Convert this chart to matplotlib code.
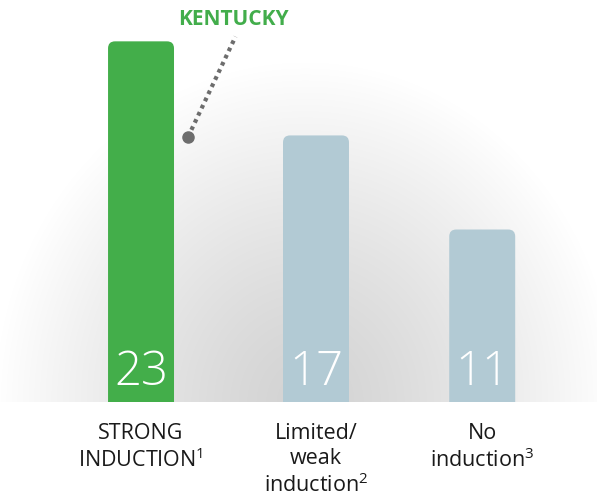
import numpy as np
import matplotlib
matplotlib.use("Agg")
import matplotlib.pyplot as plt
from matplotlib.patches import FancyBboxPatch

plt.rcParams['font.family'] = ['Open Sans', 'DejaVu Sans']
plt.rcParams['mathtext.fontset'] = 'custom'
plt.rcParams['mathtext.rm'] = 'Open Sans'
plt.rcParams['mathtext.it'] = 'Open Sans'
plt.rcParams['mathtext.bf'] = 'Open Sans:bold'
plt.rcParams['mathtext.default'] = 'regular'

# data
categories = ["STRONG\nINDUCTION$^{1}$", "Limited/\nweak\ninduction$^{2}$", "No\ninduction$^{3}$"]
values = [23, 17, 11]
highlight = "KENTUCKY"

green = "#43ae4a"
blue = "#b2cad4"
colors = [green, blue, blue]

fig = plt.figure(figsize=(5.97, 5.02), dpi=100)
ax = fig.add_axes([0, 1 - 403 / 502, 1, 403 / 502])
ax.set_xlim(-0.806, 2.606)
ax.set_ylim(0, 25.7)
ax.axis("off")

# soft radial grey backdrop behind the bars
H, W = 403, 597
yy, xx = np.mgrid[0:H, 0:W]
dx = (xx - 305) / 310.0
dy = (H - yy) / 340.0
d = np.clip(np.sqrt(dx ** 2 + dy ** 2), 0, 1)
g = (211 + 44 * d ** 1.3) / 255.0
ax.imshow(np.dstack([g, g, g]), extent=(0, 1, 0, 1), transform=ax.transAxes,
          aspect="auto", zorder=0, interpolation="bilinear")

positions = [0, 1, 1.95]
width = 0.377
px_x = 175.0        # pixels per x unit
px_y = 403 / 25.7   # pixels per y unit
radius_px = 7
for x, v, c in zip(positions, values, colors):
    patch = FancyBboxPatch((x - width / 2, -2), width, v + 2,
                           boxstyle=f"round,pad=0,rounding_size={radius_px / px_x}",
                           mutation_aspect=px_x / px_y,
                           facecolor=c, edgecolor="none", zorder=2,
                           clip_on=True)
    ax.add_patch(patch)
    ax.text(x, 1.15, str(v), ha="center", va="baseline", color="white",
            fontsize=34, fontweight="light", zorder=3)

for x, lab in zip(positions, categories):
    ax.text(x, -1.25, lab, ha="center", va="top", fontsize=15.5,
            color="#1a1a1a", linespacing=1.25, clip_on=False)

# pointer from the label to the leading bar
x0 = positions[0]
tip = (x0 + width / 2 + 0.08, values[0] - 6.1)
tail = (x0 + 0.54, values[0] + 0.3)
ax.plot([tip[0], tail[0]], [tip[1], tail[1]], color="#6d6d6d", lw=3,
        linestyle=(0, (0.9, 1.0)), zorder=4, clip_on=False)
ax.plot([tip[0]], [tip[1]], "o", color="#6d6d6d", ms=8, zorder=5, clip_on=False)
ax.text(x0 + 0.53, values[0] + 1.45, highlight, ha="center", va="center",
        color="#42ad4b", fontsize=15, fontweight="bold", clip_on=False)

fig.savefig("out.png", dpi=100, facecolor="white")
